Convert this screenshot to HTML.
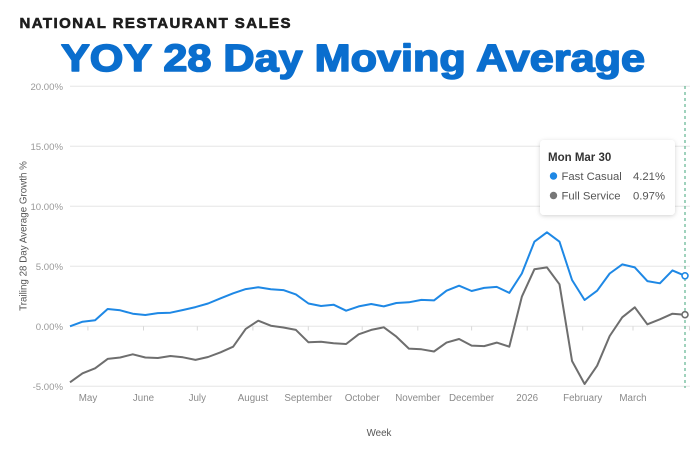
<!DOCTYPE html>
<html><head><meta charset="utf-8"><style>
html,body{margin:0;padding:0;background:#fff;}
svg{display:block;}
text{font-family:"Liberation Sans",sans-serif;}
</style></head><body>
<svg width="696" height="449" viewBox="0 0 696 449" xmlns="http://www.w3.org/2000/svg">
<rect width="696" height="449" fill="#fff"/>
<text x="19.5" y="28" font-size="15" font-weight="bold" fill="#1e1e1e" stroke="#1e1e1e" stroke-width="0.6" textLength="271" lengthAdjust="spacing">NATIONAL RESTAURANT SALES</text>
<text x="61" y="71" font-size="38" font-weight="bold" fill="#0a6ece" stroke="#0a6ece" stroke-width="1.6" stroke-linejoin="round" textLength="584" lengthAdjust="spacingAndGlyphs">YOY 28 Day Moving Average</text>
<g stroke="#e6e6e6" stroke-width="1">
<line x1="70" y1="86.3" x2="690" y2="86.3"/>
<line x1="70" y1="146.3" x2="690" y2="146.3"/>
<line x1="70" y1="206.3" x2="690" y2="206.3"/>
<line x1="70" y1="266.3" x2="690" y2="266.3"/>
<line x1="70" y1="326.3" x2="690" y2="326.3"/>
<line x1="70" y1="386.3" x2="690" y2="386.3"/>
</g>
<g stroke="#d8d8d8" stroke-width="1">
<line x1="87.9" y1="326.3" x2="87.9" y2="330.5"/>
<line x1="143.5" y1="326.3" x2="143.5" y2="330.5"/>
<line x1="197.3" y1="326.3" x2="197.3" y2="330.5"/>
<line x1="252.9" y1="326.3" x2="252.9" y2="330.5"/>
<line x1="308.3" y1="326.3" x2="308.3" y2="330.5"/>
<line x1="362.2" y1="326.3" x2="362.2" y2="330.5"/>
<line x1="417.8" y1="326.3" x2="417.8" y2="330.5"/>
<line x1="471.6" y1="326.3" x2="471.6" y2="330.5"/>
<line x1="527.2" y1="326.3" x2="527.2" y2="330.5"/>
<line x1="582.7" y1="326.3" x2="582.7" y2="330.5"/>
<line x1="633" y1="326.3" x2="633" y2="330.5"/>
<line x1="689.5" y1="326.3" x2="689.5" y2="330.5"/>
</g>
<g font-size="9.6" fill="#9a9a9a" text-anchor="end">
<text x="63" y="89.8">20.00%</text>
<text x="63" y="149.8">15.00%</text>
<text x="63" y="209.8">10.00%</text>
<text x="63" y="269.8">5.00%</text>
<text x="63" y="329.8">0.00%</text>
<text x="63" y="389.8">-5.00%</text>
</g>
<text transform="translate(26.5,236) rotate(-90)" font-size="9.8" fill="#555" text-anchor="middle">Trailing 28 Day Average Growth %</text>
<g font-size="9.8" fill="#8a8a8a" text-anchor="middle">
<text x="88" y="401">May</text>
<text x="143.5" y="401">June</text>
<text x="197.3" y="401">July</text>
<text x="253" y="401">August</text>
<text x="308.3" y="401">September</text>
<text x="362.2" y="401">October</text>
<text x="417.8" y="401">November</text>
<text x="471.6" y="401">December</text>
<text x="527.2" y="401">2026</text>
<text x="582.7" y="401">February</text>
<text x="633" y="401">March</text>
</g>
<text x="379" y="436" font-size="9.8" fill="#555" text-anchor="middle">Week</text>
<line x1="685" y1="86" x2="685" y2="388" stroke="#3fa57a" stroke-width="1" stroke-dasharray="3,3"/>
<polyline fill="none" stroke="#1e88e5" stroke-width="2" stroke-linejoin="round" points="70,326.3 82.55,321.7 95.1,320.3 107.65,309 120.2,310.3 132.76,313.7 145.31,315 157.86,313.1 170.41,312.7 182.96,310 195.51,307.1 208.06,303.5 220.61,298.3 233.16,293.3 245.71,289.1 258.27,287.3 270.82,289.3 283.37,290.1 295.92,294.4 308.47,303.5 321.02,306 333.57,304.7 346.12,310.7 358.67,306.4 371.22,304 383.78,306.4 396.33,303 408.88,302.3 421.43,299.9 433.98,300.4 446.53,290.7 459.08,285.7 471.63,291 484.18,287.9 496.73,286.9 509.29,292.9 521.84,273.5 534.39,241.7 546.94,232.3 559.49,241.7 572.04,280 584.59,300 597.14,290.7 609.69,273.5 622.24,264.4 634.8,267.4 647.35,281.1 659.9,283.3 672.45,270.4 685,275.8"/>
<polyline fill="none" stroke="#6e6e6e" stroke-width="2" stroke-linejoin="round" points="70,382.3 82.55,373.3 95.1,368.3 107.65,358.9 120.2,357.5 132.76,354.3 145.31,357.5 157.86,358 170.41,356 182.96,357.3 195.51,359.9 208.06,357 220.61,352.3 233.16,346.7 245.71,328.9 258.27,320.7 270.82,325.7 283.37,327.5 295.92,329.9 308.47,342.3 321.02,341.7 333.57,343.3 346.12,344 358.67,334.3 371.22,329.9 383.78,327.3 396.33,336.6 408.88,348.6 421.43,349.3 433.98,351.5 446.53,342.6 459.08,339 471.63,345.6 484.18,346.1 496.73,342.6 509.29,346.7 521.84,296.7 534.39,269.3 546.94,267.4 559.49,284.3 572.04,361 584.59,384 597.14,365.7 609.69,336 622.24,317.3 634.8,307.3 647.35,324.3 659.9,319.3 672.45,313.7 685,314.7"/>
<circle cx="685" cy="275.8" r="3" fill="#fff" stroke="#1e88e5" stroke-width="1.6"/>
<circle cx="685" cy="314.7" r="3" fill="#fff" stroke="#6e6e6e" stroke-width="1.6"/>
<defs>
<filter id="sh" x="-20%" y="-20%" width="140%" height="150%">
<feDropShadow dx="0" dy="1" stdDeviation="2" flood-color="#000" flood-opacity="0.18"/>
</filter>
</defs>
<rect x="540" y="140" width="135" height="75" rx="4" fill="#fff" filter="url(#sh)"/>
<text x="548" y="161" font-size="11.5" font-weight="bold" fill="#333">Mon Mar 30</text>
<circle cx="553.5" cy="176" r="3.7" fill="#1e88e5"/>
<text x="561.5" y="180" font-size="11.3" fill="#555">Fast Casual</text>
<text x="665" y="180" font-size="11.3" fill="#555" text-anchor="end">4.21%</text>
<circle cx="553.5" cy="195.5" r="3.7" fill="#777"/>
<text x="561.5" y="199.5" font-size="11.3" fill="#555">Full Service</text>
<text x="665" y="199.5" font-size="11.3" fill="#555" text-anchor="end">0.97%</text>
</svg>
</body></html>
